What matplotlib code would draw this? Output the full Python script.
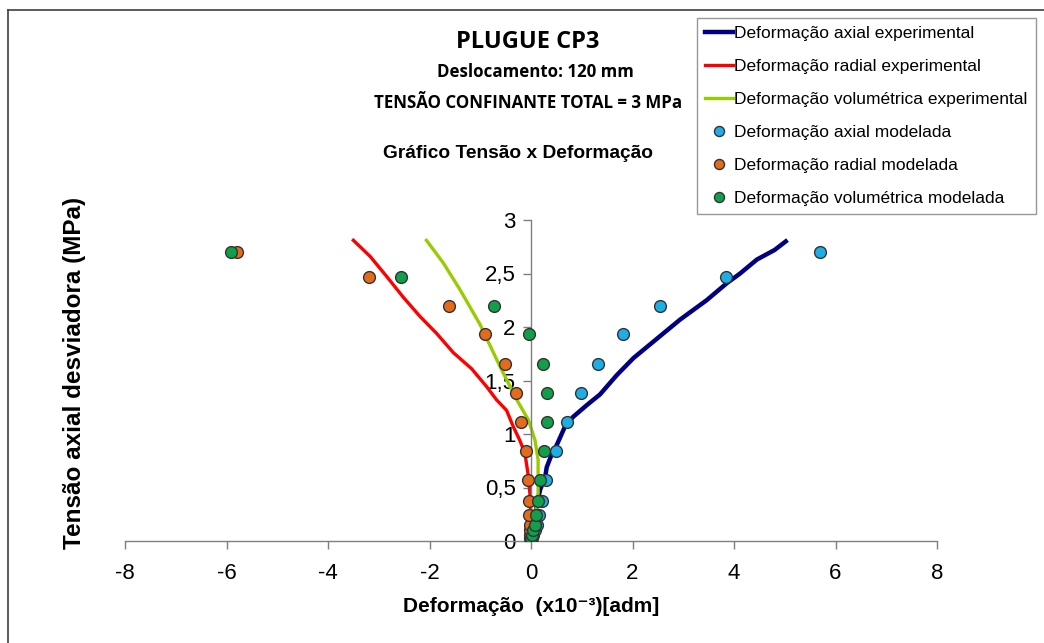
import matplotlib
matplotlib.use("Agg")
import matplotlib.pyplot as plt

plt.rcParams['axes.unicode_minus'] = False

# ---------------- data ----------------
# experimental curves (strain x1e-3, deviator stress MPa)
axial_exp_x = [0.00, 0.05, 0.10, 0.18, 0.28, 0.31, 0.40, 0.51, 0.67, 0.83, 1.10, 1.36,
               1.69, 2.02, 2.48, 2.94, 3.46, 3.86, 4.12, 4.45, 4.80, 5.02]
axial_exp_y = [0.00, 0.15, 0.30, 0.48, 0.60, 0.69, 0.80, 0.90, 1.07, 1.16, 1.27, 1.37,
               1.55, 1.71, 1.89, 2.07, 2.25, 2.41, 2.50, 2.63, 2.72, 2.80]

radial_exp_x = [0.00, -0.01, -0.05, -0.12, -0.22, -0.35, -0.48, -0.68, -0.87, -1.17, -1.53,
                -1.86, -2.19, -2.52, -2.84, -3.17, -3.50]
radial_exp_y = [0.00, 0.38, 0.60, 0.82, 0.94, 1.07, 1.22, 1.32, 1.44, 1.61, 1.76,
                1.94, 2.10, 2.28, 2.47, 2.66, 2.81]

vol_exp_x = [0.00, 0.05, 0.10, 0.14, 0.14, 0.08, -0.05, -0.28, -0.61, -0.80, -1.00,
             -1.40, -1.73, -2.06]
vol_exp_y = [0.00, 0.10, 0.30, 0.45, 0.76, 0.94, 1.13, 1.32, 1.63, 1.82, 2.02,
             2.35, 2.60, 2.81]

# modelled points
model_y = [0.00, 0.03, 0.06, 0.10, 0.15, 0.24, 0.37, 0.57, 0.84, 1.11, 1.38, 1.65, 1.93, 2.20, 2.47, 2.70]
axial_mod_x = [0.00, 0.02, 0.04, 0.07, 0.11, 0.16, 0.21, 0.30, 0.49, 0.71, 0.99, 1.32, 1.81, 2.54, 3.84, 5.69]
radial_mod_x = [0.00, -0.01, -0.01, -0.02, -0.02, -0.03, -0.03, -0.05, -0.10, -0.20, -0.30, -0.51,
                -0.90, -1.61, -3.19, -5.79]
vol_mod_x = [0.00, 0.00, 0.02, 0.03, 0.07, 0.10, 0.13, 0.18, 0.26, 0.31, 0.31, 0.24, -0.03, -0.72, -2.56, -5.91]

x_ticks = [-8, -6, -4, -2, 0, 2, 4, 6, 8]
y_ticks = [0, 0.5, 1, 1.5, 2, 2.5, 3]
y_tick_labels = ["0", "0,5", "1", "1,5", "2", "2,5", "3"]

labels = ["Deformação axial experimental", "Deformação radial experimental",
          "Deformação volumétrica experimental", "Deformação axial modelada",
          "Deformação radial modelada", "Deformação volumétrica modelada"]

# ---------------- fonts ----------------
arial = "Liberation Sans"
calibri = "Open Sans"

# ---------------- figure ----------------
fig = plt.figure(figsize=(10.44, 6.43), dpi=100)
ax = fig.add_axes([125 / 1044, 1 - 541 / 643, (937 - 125) / 1044, (541 - 220) / 643])

c_axial_line = "#000080"
c_radial_line = "#ff0000"
c_vol_line = "#99cc00"
c_axial_pt = "#1eaee6"
c_radial_pt = "#e36c1c"
c_vol_pt = "#10a04c"
edge = "#333333"

l1, = ax.plot(axial_exp_x, axial_exp_y, color=c_axial_line, lw=3.2, zorder=2)
l2, = ax.plot(radial_exp_x, radial_exp_y, color=c_radial_line, lw=2.4, zorder=2)
l3, = ax.plot(vol_exp_x, vol_exp_y, color=c_vol_line, lw=2.4, zorder=2)
ms = 8.5
p1, = ax.plot(axial_mod_x, model_y, 'o', ms=ms, mfc=c_axial_pt, mec=edge, mew=1.0, ls='none', zorder=3)
p2, = ax.plot(radial_mod_x, model_y, 'o', ms=ms, mfc=c_radial_pt, mec=edge, mew=1.0, ls='none', zorder=3)
p3, = ax.plot(vol_mod_x, model_y, 'o', ms=ms, mfc=c_vol_pt, mec=edge, mew=1.0, ls='none', zorder=4)

ax.set_xlim(-8, 8)
ax.set_ylim(0, 3)
ax.spines['left'].set_position(('data', 0))
ax.spines['bottom'].set_position(('data', 0))
ax.spines['top'].set_visible(False)
ax.spines['right'].set_visible(False)
for s in ('left', 'bottom'):
    ax.spines[s].set_color('#7f7f7f')
    ax.spines[s].set_linewidth(1.0)
ax.set_xticks(x_ticks)
ax.set_yticks(y_ticks)
ax.set_yticklabels(y_tick_labels)
ax.tick_params(axis='both', colors='#7f7f7f', length=6, width=1.0, labelcolor='black',
               labelsize=16, direction='out')
ax.tick_params(axis='x', pad=10)
ax.tick_params(axis='y', pad=5)
for lab in ax.get_xticklabels() + ax.get_yticklabels():
    lab.set_family(arial)
ax.patch.set_alpha(0)

# axis labels
fig.text(531 / 1044, 1 - 607 / 643, "Deformação  (x10⁻³)[adm]", ha='center', va='center',
         fontsize=15, fontweight='bold', family=[arial, 'DejaVu Sans'])
fig.text(75 / 1044, 1 - 373 / 643, "Tensão axial desviadora (MPa)", ha='center', va='center',
         rotation=90, fontsize=17.5, fontweight='bold', family=arial)

# titles
fig.text(528 / 1044, 1 - 42 / 643, "PLUGUE CP3", ha='center', va='center', fontsize=17,
         fontweight='bold', family=calibri)
fig.text(535 / 1044, 1 - 72 / 643, "Deslocamento: 120 mm", ha='center', va='center', fontsize=12.2,
         fontweight='bold', family=calibri)
fig.text(528 / 1044, 1 - 103 / 643, "TENSÃO CONFINANTE TOTAL = 3 MPa", ha='center', va='center',
         fontsize=12.2, fontweight='bold', family=calibri)
fig.text(518 / 1044, 1 - 153 / 643, "Gráfico Tensão x Deformação", ha='center', va='center',
         fontsize=13.8, fontweight='bold', family=arial)

# legend
leg = fig.legend([l1, l2, l3, p1, p2, p3], labels, loc='upper left',
                 bbox_to_anchor=(697 / 1044, 1 - 18 / 643), bbox_transform=fig.transFigure,
                 prop={'family': arial, 'size': 12.5}, frameon=True, fancybox=False,
                 edgecolor='#7f7f7f', handlelength=1.6, handletextpad=0.05, labelspacing=1.02,
                 borderpad=0.48, borderaxespad=0, markerscale=0.85)
leg.get_frame().set_linewidth(1.0)

# figure border (left and top only)
fig.add_artist(plt.Line2D([8 / 1044, 8 / 1044], [0, 1 - 10 / 643], transform=fig.transFigure,
                          color='#404040', lw=1.2))
fig.add_artist(plt.Line2D([8 / 1044, 1], [1 - 10 / 643, 1 - 10 / 643], transform=fig.transFigure,
                          color='#404040', lw=1.2))

fig.savefig("out.png", dpi=100, facecolor='white')
